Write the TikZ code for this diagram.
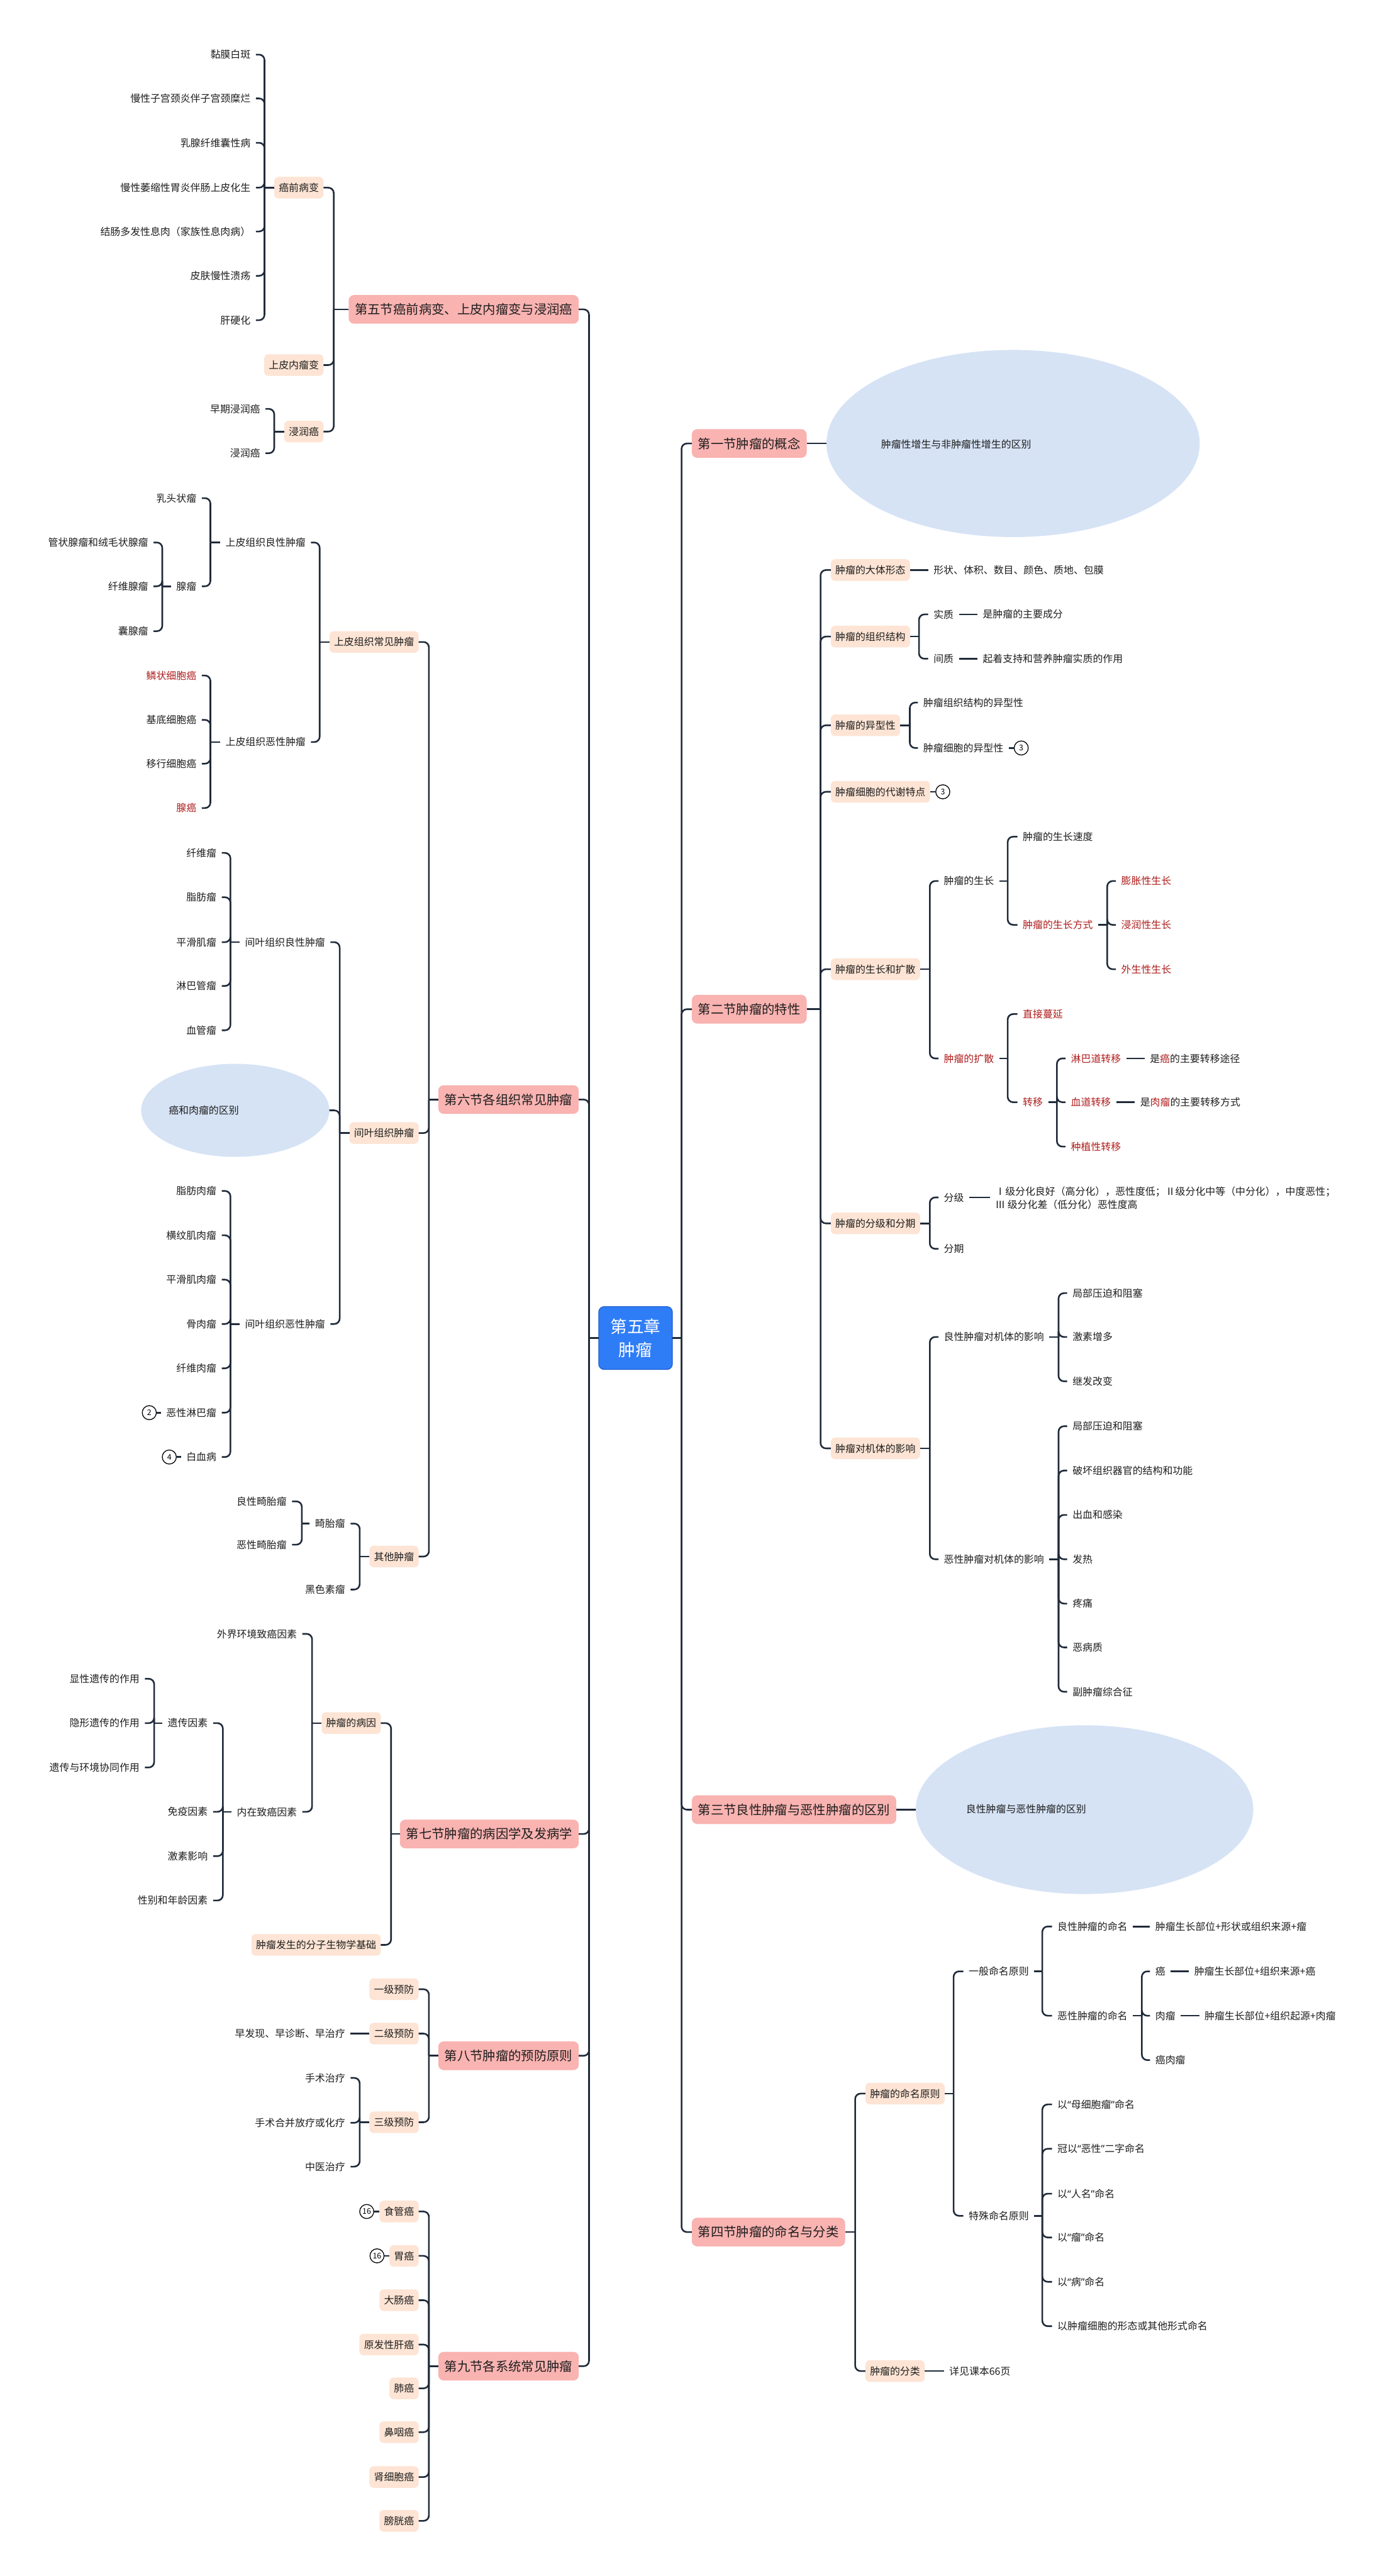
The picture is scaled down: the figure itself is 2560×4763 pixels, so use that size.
\documentclass[tikz,border=0pt]{standalone}
\usepackage{fontspec}
\newfontfamily\cjk{Noto Sans CJK SC}
\newfontfamily\qf{Noto Sans}
\usetikzlibrary{shapes.geometric}
\definecolor{lc}{HTML}{1F2A3A}
\definecolor{tc}{HTML}{1E1E1E}
\definecolor{rc}{HTML}{B01E1E}
\definecolor{pc}{HTML}{FDE4D4}
\definecolor{sc}{HTML}{F9B3B1}
\definecolor{ec}{HTML}{D6E3F5}
\definecolor{bc}{HTML}{2F7DF6}
\definecolor{bd}{HTML}{2264D6}
\newcommand\fleaf{\cjk\fontsize{5.55pt}{6.6pt}\selectfont}
\newcommand\fsec{\cjk\fontsize{7.1pt}{8.5pt}\selectfont}
\newcommand\froot{\cjk\fontsize{9.3pt}{12.9pt}\selectfont}
\newcommand\fcirc{\cjk\fontsize{4.3pt}{5pt}\selectfont}
\newcommand\qlq{{\qf “}}
\newcommand\qrq{{\qf ”}}
\tikzset{
 conn/.style={draw=lc, line width=0.9pt},
 leaf/.style={font=\fleaf, text=tc, inner xsep=3pt, inner ysep=1pt, outer sep=0pt},
 hl/.style={text=rc},
 subbox/.style={font=\fleaf, text=tc, fill=pc, rounded corners=2.4pt, inner xsep=2.55pt, inner ysep=1pt, minimum height=12pt, outer sep=0pt},
 secbox/.style={font=\fsec, text=tc, fill=sc, rounded corners=3pt, inner xsep=3.45pt, inner ysep=1pt, minimum height=15.9pt, outer sep=0pt},
 rootbox/.style={font=\froot, text=white, fill=bc, draw=bd, line width=0.5pt, rounded corners=3pt, align=center, minimum width=40.8pt, minimum height=34.8pt, inner sep=1pt, outer sep=0pt},
 numc/.style={circle, draw=black, line width=0.45pt, fill=white, minimum size=7.8pt, inner sep=0pt, outer sep=0pt, font=\fcirc},
 ellbox/.style={ellipse, fill=ec, inner sep=0pt, outer sep=0pt},
}
\newcommand\linkR[3]{\foreach \chn in {#3}{\draw[conn] (#1.east) -- (#1.east -| #2,0); \draw[conn,rounded corners=3pt] (#1.east -| #2,0) |- (\chn.west);}}
\newcommand\linkL[3]{\foreach \chn in {#3}{\draw[conn] (#1.west) -- (#1.west -| #2,0); \draw[conn,rounded corners=3pt] (#1.west -| #2,0) |- (\chn.east);}}
\begin{document}
\begin{tikzpicture}[x=0.3pt,y=-0.3pt]
\fill[white] (0,0) rectangle (2560,4763);
\useasboundingbox (0,0) rectangle (2560,4763);

% ---------- root ----------
\node[rootbox] (root) at (1175,2474) {第五章\\肿瘤};
\coordinate (rt) at (1260,2474);
\coordinate (lt) at (1089,2474);
\draw[conn] (root.east) -- (rt);
\draw[conn] (root.west) -- (lt);

% ---------- right sections ----------
\node[secbox,anchor=west] (s1) at (1279,820) {第一节肿瘤的概念};
\node[secbox,anchor=west] (s2) at (1279,1866) {第二节肿瘤的特性};
\node[secbox,anchor=west] (s3) at (1279,3346) {第三节良性肿瘤与恶性肿瘤的区别};
\node[secbox,anchor=west] (s4) at (1279,4127) {第四节肿瘤的命名与分类};
\foreach \s in {s1,s2,s3,s4}{\draw[conn,rounded corners=3pt] (rt) |- (\s.west);}

% ---------- left sections ----------
\node[secbox,anchor=east] (s5) at (1070,572) {第五节癌前病变、上皮内瘤变与浸润癌};
\node[secbox,anchor=east] (s6) at (1070,2033) {第六节各组织常见肿瘤};
\node[secbox,anchor=east] (s7) at (1070,3391) {第七节肿瘤的病因学及发病学};
\node[secbox,anchor=east] (s8) at (1070,3801) {第八节肿瘤的预防原则};
\node[secbox,anchor=east] (s9) at (1070,4375) {第九节各系统常见肿瘤};
\foreach \s in {s5,s6,s7,s8,s9}{\draw[conn,rounded corners=3pt] (lt) |- (\s.east);}

% ---------- section 1 ----------
\node[ellbox,minimum width=207pt,minimum height=103.8pt] (e1) at (1873,820) {};
\node[leaf,anchor=west] (e1t) at (1619,821) {肿瘤性增生与非肿瘤性增生的区别};
\draw[conn] (s1.east) -- (e1.west);

% ---------- section 2 ----------
\node[subbox,anchor=west] (a1) at (1536,1054) {肿瘤的大体形态};
\node[subbox,anchor=west] (a2) at (1536,1177) {肿瘤的组织结构};
\node[subbox,anchor=west] (a3) at (1536,1341) {肿瘤的异型性};
\node[subbox,anchor=west] (a4) at (1536,1464) {肿瘤细胞的代谢特点};
\node[subbox,anchor=west] (a5) at (1536,1792) {肿瘤的生长和扩散};
\node[subbox,anchor=west] (a6) at (1536,2262) {肿瘤的分级和分期};
\node[subbox,anchor=west] (a7) at (1536,2678) {肿瘤对机体的影响};
\linkR{s2}{1517}{a1,a2,a3,a4,a5,a6,a7}

\node[leaf,anchor=west] (b11) at (1716,1054) {形状、体积、数目、颜色、质地、包膜};
\draw[conn] (a1.east) -- (b11.west);

\node[leaf,anchor=west] (b21) at (1716,1136) {实质};
\node[leaf,anchor=west] (b21x) at (1807,1136) {是肿瘤的主要成分};
\node[leaf,anchor=west] (b22) at (1716,1218) {间质};
\node[leaf,anchor=west] (b22x) at (1807,1218) {起着支持和营养肿瘤实质的作用};
\linkR{a2}{1699}{b21,b22}
\draw[conn] (b21.east) -- (b21x.west);
\draw[conn] (b22.east) -- (b22x.west);

\node[leaf,anchor=west] (b31) at (1697,1299) {肿瘤组织结构的异型性};
\node[leaf,anchor=west] (b32) at (1697,1383) {肿瘤细胞的异型性};
\node[numc] (c32) at (1888,1383) {3};
\linkR{a3}{1682}{b31,b32}
\draw[conn] (b32.east) -- (c32.west);

\node[numc] (c4) at (1743,1464) {3};
\draw[conn] (a4.east) -- (c4.west);

\node[leaf,anchor=west] (b51) at (1735,1629) {肿瘤的生长};
\node[leaf,anchor=west] (b511) at (1881,1547) {肿瘤的生长速度};
\node[leaf,hl,anchor=west] (b512) at (1881,1710) {肿瘤的生长方式};
\node[leaf,hl,anchor=west] (b5121) at (2063,1629) {膨胀性生长};
\node[leaf,hl,anchor=west] (b5122) at (2063,1710) {浸润性生长};
\node[leaf,hl,anchor=west] (b5123) at (2063,1792) {外生性生长};
\node[leaf,hl,anchor=west] (b52) at (1735,1957) {肿瘤的扩散};
\node[leaf,hl,anchor=west] (b521) at (1881,1875) {直接蔓延};
\node[leaf,hl,anchor=west] (b522) at (1881,2038) {转移};
\node[leaf,hl,anchor=west] (b5221) at (1970,1957) {淋巴道转移};
\node[leaf,anchor=west] (b5221x) at (2116,1957) {是{\color{rc}癌}的主要转移途径};
\node[leaf,hl,anchor=west] (b5222) at (1970,2038) {血道转移};
\node[leaf,anchor=west] (b5222x) at (2098,2038) {是{\color{rc}肉瘤}的主要转移方式};
\node[leaf,hl,anchor=west] (b5223) at (1970,2120) {种植性转移};
\linkR{a5}{1719}{b51,b52}
\linkR{b51}{1863}{b511,b512}
\linkR{b512}{2047}{b5121,b5122,b5123}
\linkR{b52}{1863}{b521,b522}
\linkR{b522}{1954}{b5221,b5222,b5223}
\draw[conn] (b5221.east) -- (b5221x.west);
\draw[conn] (b5222.east) -- (b5222x.west);

\node[leaf,anchor=west] (b61) at (1735,2214) {分级};
\node[leaf,anchor=west,align=left,font=\cjk\fontsize{5.55pt}{7.2pt}\selectfont] (b61x) at (1830,2215) {Ⅰ级分化良好（高分化），恶性度低；Ⅱ级分化中等（中分化），中度恶性；\\Ⅲ 级分化差（低分化）恶性度高};
\node[leaf,anchor=west] (b62) at (1735,2309) {分期};
\linkR{a6}{1719}{b61,b62}
\draw[conn] (b61.east) -- (b61x.west |- b61.east);

\node[leaf,anchor=west] (b71) at (1735,2472) {良性肿瘤对机体的影响};
\node[leaf,anchor=west] (b711) at (1973,2391) {局部压迫和阻塞};
\node[leaf,anchor=west] (b712) at (1973,2472) {激素增多};
\node[leaf,anchor=west] (b713) at (1973,2554) {继发改变};
\node[leaf,anchor=west] (b72) at (1735,2883) {恶性肿瘤对机体的影响};
\node[leaf,anchor=west] (b721) at (1973,2637) {局部压迫和阻塞};
\node[leaf,anchor=west] (b722) at (1973,2719) {破坏组织器官的结构和功能};
\node[leaf,anchor=west] (b723) at (1973,2801) {出血和感染};
\node[leaf,anchor=west] (b724) at (1973,2883) {发热};
\node[leaf,anchor=west] (b725) at (1973,2965) {疼痛};
\node[leaf,anchor=west] (b726) at (1973,3046) {恶病质};
\node[leaf,anchor=west] (b727) at (1973,3128) {副肿瘤综合征};
\linkR{a7}{1719}{b71,b72}
\linkR{b71}{1957}{b711,b712,b713}
\linkR{b72}{1957}{b721,b722,b723,b724,b725,b726,b727}

% ---------- section 3 ----------
\node[ellbox,minimum width=187.2pt,minimum height=93.6pt] (e3) at (2005,3346) {};
\node[leaf,anchor=west] (e3t) at (1776,3345) {良性肿瘤与恶性肿瘤的区别};
\draw[conn] (s3.east) -- (e3.west);

% ---------- section 4 ----------
\node[subbox,anchor=west] (d1) at (1600,3871) {肿瘤的命名原则};
\node[subbox,anchor=west] (d2) at (1600,4384) {肿瘤的分类};
\linkR{s4}{1581}{d1,d2}
\node[leaf,anchor=west] (d11) at (1781,3645) {一般命名原则};
\node[leaf,anchor=west] (d111) at (1945,3562) {良性肿瘤的命名};
\node[leaf,anchor=west] (d111x) at (2126,3562) {肿瘤生长部位+形状或组织来源+瘤};
\node[leaf,anchor=west] (d112) at (1945,3727) {恶性肿瘤的命名};
\node[leaf,anchor=west] (d1121) at (2126,3645) {癌};
\node[leaf,anchor=west] (d1121x) at (2198,3645) {肿瘤生长部位+组织来源+癌};
\node[leaf,anchor=west] (d1122) at (2126,3727) {肉瘤};
\node[leaf,anchor=west] (d1122x) at (2217,3727) {肿瘤生长部位+组织起源+肉瘤};
\node[leaf,anchor=west] (d1123) at (2126,3809) {癌肉瘤};
\node[leaf,anchor=west] (d12) at (1781,4097) {特殊命名原则};
\node[leaf,anchor=west] (d121) at (1945,3891) {以\qlq 母细胞瘤\qrq 命名};
\node[leaf,anchor=west] (d122) at (1945,3973) {冠以\qlq 恶性\qrq 二字命名};
\node[leaf,anchor=west] (d123) at (1945,4056) {以\qlq 人名\qrq 命名};
\node[leaf,anchor=west] (d124) at (1945,4137) {以\qlq 瘤\qrq 命名};
\node[leaf,anchor=west] (d125) at (1945,4219) {以\qlq 病\qrq 命名};
\node[leaf,anchor=west] (d126) at (1945,4301) {以肿瘤细胞的形态或其他形式命名};
\node[leaf,anchor=west] (d21) at (1745,4384) {详见课本66页};
\linkR{d1}{1763}{d11,d12}
\linkR{d11}{1927}{d111,d112}
\linkR{d112}{2111}{d1121,d1122,d1123}
\linkR{d12}{1927}{d121,d122,d123,d124,d125,d126}
\draw[conn] (d111.east) -- (d111x.west);
\draw[conn] (d1121.east) -- (d1121x.west);
\draw[conn] (d1122.east) -- (d1122x.west);
\draw[conn] (d2.east) -- (d21.west);

% ---------- section 5 ----------
\node[subbox,anchor=east] (f1) at (598,347) {癌前病变};
\node[subbox,anchor=east] (f2) at (598,675) {上皮内瘤变};
\node[subbox,anchor=east] (f3) at (598,798) {浸润癌};
\node[leaf,anchor=east] (f1a) at (473,101) {黏膜白斑};
\node[leaf,anchor=east] (f1b) at (473,182) {慢性子宫颈炎伴子宫颈糜烂};
\node[leaf,anchor=east] (f1c) at (473,264) {乳腺纤维囊性病};
\node[leaf,anchor=east] (f1d) at (473,347) {慢性萎缩性胃炎伴肠上皮化生};
\node[leaf,anchor=east] (f1e) at (473,428) {结肠多发性息肉（家族性息肉病）};
\node[leaf,anchor=east] (f1f) at (473,510) {皮肤慢性溃疡};
\node[leaf,anchor=east] (f1g) at (473,592) {肝硬化};
\node[leaf,anchor=east] (f3a) at (491,756) {早期浸润癌};
\node[leaf,anchor=east] (f3b) at (491,838) {浸润癌};
\linkL{s5}{617}{f1,f2,f3}
\linkL{f1}{489}{f1a,f1b,f1c,f1d,f1e,f1f,f1g}
\linkL{f3}{507}{f3a,f3b}

% ---------- section 6 ----------
\node[subbox,anchor=east] (g1) at (774,1187) {上皮组织常见肿瘤};
\node[subbox,anchor=east] (g2) at (774,2095) {间叶组织肿瘤};
\node[subbox,anchor=east] (g3) at (774,2878) {其他肿瘤};
\linkL{s6}{793}{g1,g2,g3}

\node[leaf,anchor=east] (g11) at (575,1003) {上皮组织良性肿瘤};
\node[leaf,anchor=east] (g111) at (373,921) {乳头状瘤};
\node[leaf,anchor=east] (g112) at (373,1084) {腺瘤};
\node[leaf,anchor=east] (g1121) at (284,1003) {管状腺瘤和绒毛状腺瘤};
\node[leaf,anchor=east] (g1122) at (284,1084) {纤维腺瘤};
\node[leaf,anchor=east] (g1123) at (284,1167) {囊腺瘤};
\node[leaf,anchor=east] (g12) at (575,1372) {上皮组织恶性肿瘤};
\node[leaf,hl,anchor=east] (g121) at (373,1249) {鳞状细胞癌};
\node[leaf,anchor=east] (g122) at (373,1331) {基底细胞癌};
\node[leaf,anchor=east] (g123) at (373,1412) {移行细胞癌};
\node[leaf,hl,anchor=east] (g124) at (373,1494) {腺癌};
\linkL{g1}{591}{g11,g12}
\linkL{g11}{389}{g111,g112}
\linkL{g112}{300}{g1121,g1122,g1123}
\linkL{g12}{389}{g121,g122,g123,g124}

\node[leaf,anchor=east] (g21) at (611,1742) {间叶组织良性肿瘤};
\node[leaf,anchor=east] (g211) at (410,1577) {纤维瘤};
\node[leaf,anchor=east] (g212) at (410,1659) {脂肪瘤};
\node[leaf,anchor=east] (g213) at (410,1742) {平滑肌瘤};
\node[leaf,anchor=east] (g214) at (410,1823) {淋巴管瘤};
\node[leaf,anchor=east] (g215) at (410,1905) {血管瘤};
\node[ellbox,minimum width=104.4pt,minimum height=51.6pt] (g22) at (435,2053) {};
\node[leaf,anchor=west] (g22t) at (302,2053) {癌和肉瘤的区别};
\node[leaf,anchor=east] (g23) at (611,2448) {间叶组织恶性肿瘤};
\node[leaf,anchor=east] (g231) at (410,2202) {脂肪肉瘤};
\node[leaf,anchor=east] (g232) at (410,2284) {横纹肌肉瘤};
\node[leaf,anchor=east] (g233) at (410,2366) {平滑肌肉瘤};
\node[leaf,anchor=east] (g234) at (410,2448) {骨肉瘤};
\node[leaf,anchor=east] (g235) at (410,2530) {纤维肉瘤};
\node[leaf,anchor=east] (g236) at (410,2612) {恶性淋巴瘤};
\node[leaf,anchor=east] (g237) at (410,2694) {白血病};
\node[numc] (c236) at (276,2612) {2};
\node[numc] (c237) at (313,2694) {4};
\linkL{g2}{628}{g21,g22,g23}
\linkL{g21}{426}{g211,g212,g213,g214,g215}
\linkL{g23}{426}{g231,g232,g233,g234,g235,g236,g237}
\draw[conn] (c236.east) -- (g236.west);
\draw[conn] (c237.east) -- (g237.west);

\node[leaf,anchor=east] (g31) at (648,2817) {畸胎瘤};
\node[leaf,anchor=east] (g311) at (540,2776) {良性畸胎瘤};
\node[leaf,anchor=east] (g312) at (540,2856) {恶性畸胎瘤};
\node[leaf,anchor=east] (g32) at (648,2939) {黑色素瘤};
\linkL{g3}{665}{g31,g32}
\linkL{g31}{558}{g311,g312}

% ---------- section 7 ----------
\node[subbox,anchor=east] (h1) at (704,3186) {肿瘤的病因};
\node[subbox,anchor=east] (h2) at (704,3596) {肿瘤发生的分子生物学基础};
\linkL{s7}{723}{h1,h2}
\node[leaf,anchor=east] (h11) at (559,3021) {外界环境致癌因素};
\node[leaf,anchor=east] (h12) at (559,3350) {内在致癌因素};
\node[leaf,anchor=east] (h121) at (394,3186) {遗传因素};
\node[leaf,anchor=east] (h1211) at (268,3104) {显性遗传的作用};
\node[leaf,anchor=east] (h1212) at (268,3186) {隐形遗传的作用};
\node[leaf,anchor=east] (h1213) at (268,3268) {遗传与环境协同作用};
\node[leaf,anchor=east] (h122) at (394,3350) {免疫因素};
\node[leaf,anchor=east] (h123) at (394,3432) {激素影响};
\node[leaf,anchor=east] (h124) at (394,3514) {性别和年龄因素};
\linkL{h1}{577}{h11,h12}
\linkL{h12}{412}{h121,h122,h123,h124}
\linkL{h121}{285}{h1211,h1212,h1213}

% ---------- section 8 ----------
\node[subbox,anchor=east] (i1) at (774,3678) {一级预防};
\node[subbox,anchor=east] (i2) at (774,3760) {二级预防};
\node[subbox,anchor=east] (i3) at (774,3924) {三级预防};
\linkL{s8}{793}{i1,i2,i3}
\node[leaf,anchor=east] (i21) at (648,3760) {早发现、早诊断、早治疗};
\draw[conn] (i2.west) -- (i21.east);
\node[leaf,anchor=east] (i31) at (648,3842) {手术治疗};
\node[leaf,anchor=east] (i32) at (648,3925) {手术合并放疗或化疗};
\node[leaf,anchor=east] (i33) at (648,4006) {中医治疗};
\linkL{i3}{665}{i31,i32,i33}

% ---------- section 9 ----------
\node[subbox,anchor=east] (j1) at (774,4089) {食管癌};
\node[subbox,anchor=east] (j2) at (774,4171) {胃癌};
\node[subbox,anchor=east] (j3) at (774,4253) {大肠癌};
\node[subbox,anchor=east] (j4) at (774,4335) {原发性肝癌};
\node[subbox,anchor=east] (j5) at (774,4416) {肺癌};
\node[subbox,anchor=east] (j6) at (774,4497) {鼻咽癌};
\node[subbox,anchor=east] (j7) at (774,4580) {肾细胞癌};
\node[subbox,anchor=east] (j8) at (774,4661) {膀胱癌};
\linkL{s9}{793}{j1,j2,j3,j4,j5,j6,j7,j8}
\node[numc] (cj1) at (678,4089) {16};
\node[numc] (cj2) at (697,4171) {16};
\draw[conn] (cj1.east) -- (j1.west);
\draw[conn] (cj2.east) -- (j2.west);
\end{tikzpicture}
\end{document}
